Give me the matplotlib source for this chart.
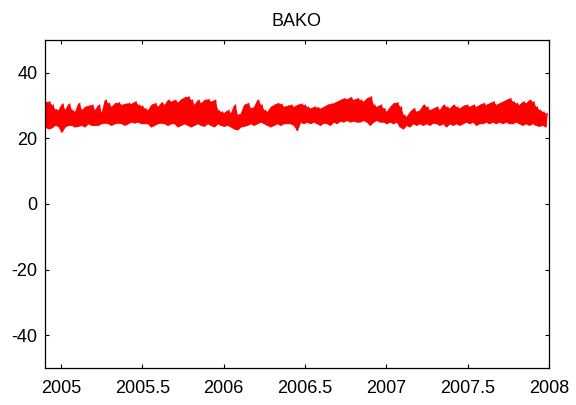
import numpy as np
import matplotlib

matplotlib.use("Agg")
from matplotlib import pyplot as plt
from matplotlib.ticker import FuncFormatter

STATION = "BAKO"
START_YEAR = 2004.90
END_YEAR = 2007.98

# weekly-ish extremes of the series (degC), high and low of each window
series_high = [
    31.0, 31.2, 30.2, 28.8, 28.6, 30.5, 28.6, 30.5, 28.6, 28.1,
    30.7, 28.6, 29.6, 29.9, 30.2, 28.6, 30.2, 27.6, 31.7, 30.7,
    29.6, 30.7, 30.9, 30.2, 30.5, 30.7, 30.5, 31.2, 30.2, 29.9,
    29.1, 28.6, 30.2, 30.7, 29.6, 30.9, 30.2, 31.7, 31.2, 31.7,
    30.9, 31.9, 32.5, 32.7, 31.7, 30.2, 31.7, 30.7, 31.7, 31.9,
    31.2,
    31.7, 28.6, 28.1, 27.8, 28.6, 27.6, 30.2, 27.1, 27.6, 30.2,
    30.7, 29.1, 29.6, 31.7, 30.2, 28.6, 28.1, 29.6, 30.2, 30.7,
    30.5, 29.6, 29.9, 30.2, 29.6, 30.2, 30.5, 30.2, 29.6, 29.1,
    29.6, 29.4, 29.1, 29.6, 30.2, 30.5, 30.7, 31.2, 31.7, 32.2,
    31.9, 32.5, 31.7, 32.2, 31.7, 31.2, 32.2, 32.7, 30.2, 29.6,
    30.2,
    29.1, 28.1, 29.6, 30.7, 30.9, 29.6, 27.1, 26.6, 28.1, 29.1,
    28.1, 28.6, 30.2, 29.6, 28.6, 29.1, 29.6, 28.6, 30.2, 29.6,
    29.1, 30.2, 29.6, 29.1, 29.9, 30.2, 29.6, 30.2, 29.6, 30.2,
    30.7, 30.2, 30.7, 31.2, 30.2, 30.7, 31.2, 31.7, 32.2, 31.2,
    30.7, 30.2, 31.2, 30.7, 31.7, 31.2, 29.6, 28.6, 28.1, 27.6,
]
series_low = [
    23.6, 23.0, 23.3, 24.1, 23.8, 22.0, 23.6, 24.1, 24.1, 23.6,
    23.8, 24.1, 23.6, 24.6, 24.1, 24.1, 24.1, 24.6, 24.8, 24.6,
    24.1, 24.6, 24.8, 24.6, 24.1, 24.6, 25.1, 24.8, 25.1, 24.6,
    24.6, 24.6, 23.6, 24.1, 24.6, 24.8, 24.6, 24.1, 24.6, 24.6,
    23.6, 24.1, 24.6, 24.1, 23.6, 24.1, 24.6, 24.1, 23.8, 24.6,
    24.1,
    23.6, 24.6, 24.1, 23.8, 24.1, 23.6, 23.0, 22.7, 23.6, 23.8,
    24.1, 24.6, 24.1, 24.6, 25.1, 24.6, 24.1, 23.6, 24.1, 24.6,
    24.1, 24.6, 24.6, 24.6, 24.1, 22.5, 25.1, 24.6, 25.1, 24.6,
    25.1, 24.6, 24.1, 24.8, 24.6, 24.1, 25.1, 24.6, 25.4, 25.1,
    25.6, 25.1, 25.4, 25.1, 25.1, 25.6, 25.1, 24.1, 25.1, 25.6,
    25.1,
    25.1, 24.6, 25.1, 24.6, 25.1, 23.6, 23.0, 24.1, 23.6, 24.6,
    24.1, 24.6, 24.1, 24.6, 24.1, 24.8, 24.6, 24.1, 24.6, 23.6,
    24.6, 24.1, 24.6, 24.1, 24.6, 25.1, 24.6, 25.1, 24.1, 24.6,
    24.6, 25.1, 24.6, 25.1, 24.6, 25.1, 24.6, 25.1, 24.6, 24.6,
    25.1, 24.6, 24.1, 24.6, 24.1, 24.6, 24.1, 23.8, 24.1, 23.6,
]
x_ticks = [2005, 2005.5, 2006, 2006.5, 2007, 2007.5, 2008]
y_ticks = [-40, -20, 0, 20, 40]

plt.rcParams["font.family"] = ["Liberation Sans", "DejaVu Sans"]
plt.rcParams["font.size"] = 13
plt.rcParams["axes.unicode_minus"] = False

n = len(series_high)
t = np.linspace(START_YEAR, END_YEAR, n)
half = (t[1] - t[0]) / 2
# interleave lows and highs so the trace swings through each window
times = np.column_stack((t, t + half)).ravel()
values = np.column_stack((series_low, series_high)).ravel()

fig = plt.figure(figsize=(5.76, 4.05), dpi=100)
ax = fig.add_axes([0.078, 0.0914, 0.875, 0.8098])
ax.fill_between(t, series_low, series_high, color="#ff0000", linewidth=0.6)
ax.plot(times, values, color="#ff0000", linewidth=0.9)

ax.set_xlim(2004.90, 2008.0)
ax.set_ylim(-50, 50)
ax.set_xticks(x_ticks)
ax.set_yticks(y_ticks)
ax.xaxis.set_major_formatter(FuncFormatter(lambda v, _: f"{v:g}"))
ax.tick_params(
    direction="in", length=3, width=0.8, top=True, right=True,
    colors="black",
)
ax.tick_params(axis="x", pad=8.5)
ax.tick_params(axis="y", pad=5.5)
for spine in ax.spines.values():
    spine.set_linewidth(0.9)
    spine.set_color("black")
ax.set_title(STATION, fontsize=13, pad=10)

fig.savefig("out.png", dpi=100)
plt.close(fig)
